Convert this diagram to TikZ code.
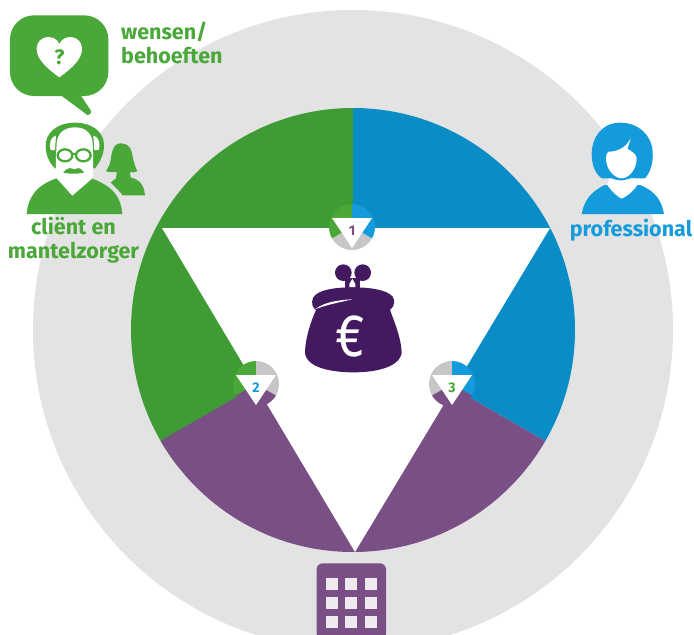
\documentclass[tikz,border=0pt]{standalone}
\usepackage{fontspec}
\setmainfont{Fira Sans}
\definecolor{bggray}{HTML}{E3E3E3}
\definecolor{cgreen}{HTML}{3F9C35}
\definecolor{lgreen}{HTML}{49A838}
\definecolor{cblue}{HTML}{0A8CC6}
\definecolor{lblue}{HTML}{149BDC}
\definecolor{cpurple}{HTML}{7A4F85}
\definecolor{dpurple}{HTML}{43195F}
\definecolor{mgray}{HTML}{C6C6C6}
\tikzset{
  lbl/.style={font=\bfseries\fontsize{21.5}{23.5}\selectfont,align=center,inner sep=0pt},
  numlbl/.style={font=\bfseries\fontsize{14}{14}\selectfont,inner sep=0pt}
}
\newcommand{\miniwheel}[7]{%
  \begin{scope}[shift={(#1,#2)}]
    \begin{scope}
      \clip (0,0) circle (23);
      \fill[#3] (0,0) -- (0,-60) -- (-104,-60) -- (-104,60) -- cycle;
      \fill[#4] (0,0) -- (0,-60) -- (104,-60) -- (104,60) -- cycle;
      \fill[#5] (0,0) -- (-104,60) -- (0,120) -- (104,60) -- cycle;
    \end{scope}
    \fill[white] (-20,-9) -- (20,-9) -- (0,21) -- cycle;
    \node[numlbl,text=#6] (n#7) at (0,4) {\addfontfeature{Numbers=Lining}#7};
  \end{scope}}
\begin{document}
\begin{tikzpicture}[x=1pt,y=-1pt]
\useasboundingbox (0,0) rectangle (694,635);
\clip (0,0) rectangle (694,635);
\fill[white] (0,0) rectangle (694,635);
% big circles
\fill[bggray] (353,330) circle (320);
\begin{scope}
  \clip (353,330) circle (222);
  \fill[cgreen] (353,330) -- (353,0) -- (0,0) -- (0,600) -- cycle;
  \fill[cblue] (353,330) -- (353,0) -- (694,0) -- (694,527) -- cycle;
  \fill[cpurple] (353,330) -- (-29,550) -- (353,800) -- (737,552) -- cycle;
\end{scope}
\fill[white] (162,228) -- (550,228) -- (355,552) -- cycle;
% small wheels
\miniwheel{352}{227}{lgreen}{lblue}{mgray}{cpurple}{1}
\miniwheel{256}{384}{lgreen}{mgray}{cpurple}{lblue}{2}
\miniwheel{452}{384}{mgray}{lblue}{cpurple}{lgreen}{3}
% purse
\begin{scope}[shift={(220,200)},scale=1/3]
  \fill[dpurple] (370,218) circle (25);
  \fill[dpurple] (428,218) circle (25);
  \fill[dpurple] (375,235) rectangle (420,265);
  \fill[white] (388,252) -- (397,236) -- (406,252) -- (406,262) -- (388,262) -- cycle;
  \fill[dpurple] (397,262)
    .. controls (350,262) and (295,268) .. (280,292)
    .. controls (272,312) and (278,322) .. (288,330)
    .. controls (270,370) and (255,420) .. (255,460)
    .. controls (262,505) and (340,517) .. (400,517)
    .. controls (460,517) and (535,505) .. (545,460)
    .. controls (545,420) and (525,370) .. (510,330)
    .. controls (525,318) and (525,300) .. (518,290)
    .. controls (500,268) and (445,262) .. (397,262) -- cycle;
  \fill[white] (285,328) .. controls (310,308) and (350,300) .. (397,298)
    .. controls (355,308) and (320,314) .. (285,328) -- cycle;
\end{scope}
\node[inner sep=0pt,text=white,font=\fontsize{60}{60}\selectfont,xscale=.85,transform shape] (euro) at (350,336) {€};
% speech bubble
\begin{scope}[scale=1/3]
  \fill[lgreen,rounded corners=24] (30,46) -- (325,46) -- (325,288) -- (30,288) -- cycle;
  \fill[lgreen,line join=round] (175,280) -- (262,345) .. controls (272,345) and (278,335) .. (268,325) -- (238,280) -- cycle;
  \fill[white] (178,232)
    .. controls (140,205) and (108,175) .. (110,145)
    .. controls (112,105) and (165,100) .. (178,132)
    .. controls (191,100) and (244,105) .. (246,145)
    .. controls (248,175) and (216,205) .. (178,232) -- cycle;
\end{scope}
\node[inner sep=0pt,text=lgreen,font=\bfseries\fontsize{21}{21}\selectfont] (qmark) at (59.5,57) {?};
\node[lbl,text=lgreen,align=left,anchor=north west] (wensen) at (121,22) {wensen/\\behoeften};
% caregiver silhouette
\begin{scope}[scale=1/3]
  \fill[lgreen] (362,430)
    .. controls (338,430) and (335,460) .. (332,480)
    .. controls (330,495) and (322,505) .. (318,514)
    .. controls (330,517) and (342,517) .. (350,516)
    -- (348,535) .. controls (342,540) and (335,545) .. (332,548)
    .. controls (350,565) and (362,578) .. (368,586)
    -- (435,586)
    .. controls (432,555) and (420,540) .. (392,532)
    -- (390,516) .. controls (396,518) and (404,517) .. (412,514)
    .. controls (402,495) and (398,470) .. (395,455)
    .. controls (390,438) and (378,430) .. (362,430) -- cycle;
\end{scope}
% client
\begin{scope}[scale=1/3]
  \fill[lgreen] (80,642) -- (367,642)
    .. controls (362,590) and (340,560) .. (275,535)
    -- (170,535)
    .. controls (110,555) and (85,590) .. (80,642) -- cycle;
  \fill[lgreen] (225,368)
    .. controls (170,368) and (135,400) .. (137,440)
    .. controls (138,470) and (150,490) .. (165,505)
    -- (285,505)
    .. controls (300,485) and (312,465) .. (312,435)
    .. controls (312,395) and (275,368) .. (225,368) -- cycle;
  \fill[white] (225,382)
    .. controls (195,382) and (172,398) .. (170,430)
    .. controls (168,470) and (165,505) .. (170,535)
    -- (217,587) -- (277,535)
    .. controls (280,510) and (280,470) .. (278,430)
    .. controls (276,398) and (255,382) .. (225,382) -- cycle;
  \fill[white] (152,450) .. controls (145,425) and (155,410) .. (168,407) -- (165,450) -- cycle;
  \fill[white] (296,450) .. controls (303,425) and (293,410) .. (280,407) -- (283,450) -- cycle;
  \draw[lgreen,line width=2.3] (195,466) ellipse (22 and 18);
  \draw[lgreen,line width=2.3] (250,466) ellipse (22 and 18);
  \draw[lgreen,line width=2.3] (217,462) -- (228,462);
  \fill[lgreen] (190,518) .. controls (205,498) and (215,505) .. (222,508)
    .. controls (230,505) and (240,498) .. (252,518)
    .. controls (235,522) and (205,522) .. (190,518) -- cycle;
\end{scope}
\node[lbl,text=lgreen] (client) at (73.5,240) {cliënt en\\mantelzorger};
% professional
\begin{scope}[shift={(540,110)},scale=1/3]
  \fill[lblue] (125,312) -- (372,312)
    .. controls (365,275) and (350,245) .. (300,225)
    -- (195,225)
    .. controls (150,245) and (132,275) .. (125,312) -- cycle;
  \fill[lblue] (240,38)
    .. controls (185,38) and (155,85) .. (155,130)
    .. controls (155,165) and (165,190) .. (185,205)
    -- (315,205)
    .. controls (332,185) and (340,160) .. (338,125)
    .. controls (335,75) and (295,38) .. (240,38) -- cycle;
  \fill[white] (208,205) -- (285,205) -- (292,225) .. controls (280,245) and (255,262) .. (245,266)
    .. controls (235,262) and (215,245) .. (202,225) -- cycle;
  \fill[lblue] (215,205) .. controls (240,215) and (260,212) .. (280,200) -- (280,190) -- (215,190) -- cycle;
  \fill[white] (205,125)
    .. controls (235,125) and (258,112) .. (272,85)
    .. controls (268,100) and (265,110) .. (262,116)
    .. controls (275,125) and (288,130) .. (290,145)
    .. controls (290,180) and (265,205) .. (245,205)
    .. controls (225,205) and (198,180) .. (198,145)
    .. controls (198,135) and (200,130) .. (205,125) -- cycle;
\end{scope}
\node[lbl,text=lblue] (prof) at (631,230) {professional};
% building
\begin{scope}[shift={(290,530)},scale=1/3]
  \fill[cpurple,rounded corners=6] (80,100) rectangle (288,330);
  \foreach \wx in {125,182,243}
    \foreach \wy in {163,220,277}
      \fill[white!88!cpurple] (\wx-18,\wy-18) rectangle (\wx+18,\wy+18);
\end{scope}
\end{tikzpicture}
\end{document}
